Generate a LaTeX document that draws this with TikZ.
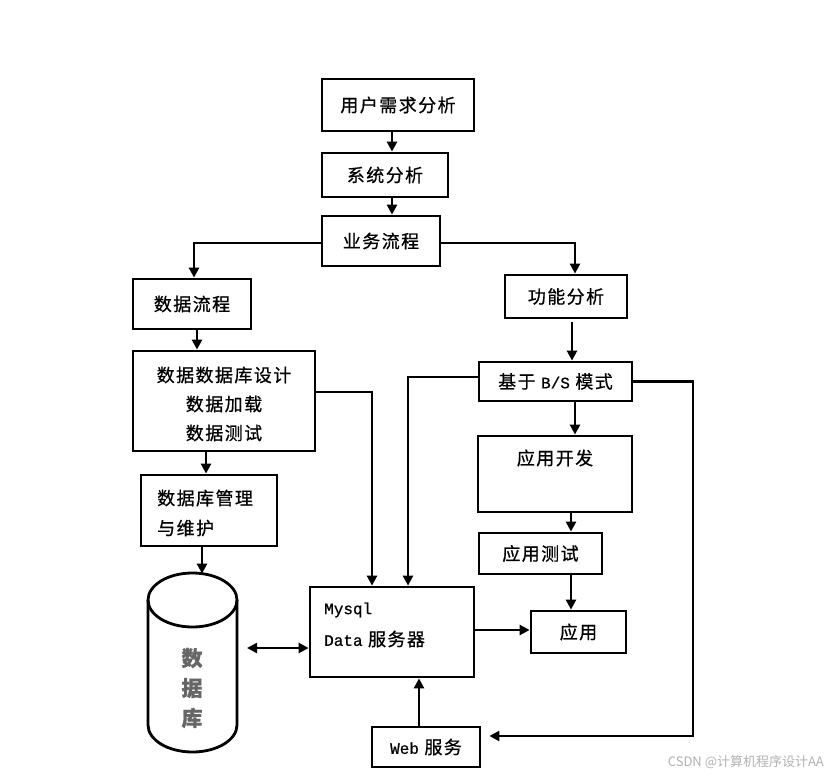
\documentclass[tikz,border=0pt]{standalone}
\usepackage{fontspec}
\setmainfont{Noto Sans CJK SC}[LetterSpace=8, FakeBold=0.7]
\newfontfamily\monof{Liberation Mono}[FakeBold=0.7]
\newfontfamily\wmfont{Noto Sans CJK SC}
\usetikzlibrary{arrows.meta}
\newcommand\latxt[1]{{\monof\fontsize{16}{20}\selectfont #1}}
\tikzset{
  box/.style={draw, line width=2.8pt, inner sep=0pt, font=\fontsize{18}{22}\selectfont},
  txt/.style={inner sep=0pt, font=\fontsize{18}{22}\selectfont},
  arr/.style={line width=2.6pt, -{Triangle[length=10pt,width=10pt]}},
  dbl/.style={line width=2.6pt, {Triangle[length=10pt,width=10pt]}-{Triangle[length=10pt,width=10pt]}},
  ln/.style={line width=2.8pt},
}
\begin{document}
\begin{tikzpicture}[x=1pt,y=-1pt]
\useasboundingbox (0,0) rectangle (832,778);
\fill[white] (0,0) rectangle (832,778);

% boxes
\node[box, minimum width=152pt, minimum height=52pt] (req) at (398,105) {用户需求分析};
\node[box, minimum width=126pt, minimum height=44pt] (sys) at (385,175) {系统分析};
\node[box, minimum width=118pt, minimum height=50pt] (biz) at (381,241) {业务流程};
\node[box, minimum width=118pt, minimum height=50pt] (dflow) at (192,304) {数据流程};
\node[box, minimum width=122pt, minimum height=43pt] (func) at (566,296.5) {功能分析};
\node[box, minimum width=182pt, minimum height=100pt] (dbd) at (224,401) {};
\node[txt, align=center, font=\fontsize{18}{29}\selectfont] (dbdt) at (224,404) {数据数据库设计\\数据加载\\数据测试};
\node[box, minimum width=136pt, minimum height=71pt] (dbm) at (209,510.5) {};
\node[txt, anchor=west, align=left, font=\fontsize{18}{30}\selectfont] (dbmt) at (157,513) {数据库管理\\与维护};
\node[box, minimum width=153pt, minimum height=39pt] (bs) at (555.5,381.5) {基于 \latxt{B/S} 模式};
\node[box, minimum width=154pt, minimum height=76pt] (dev) at (555,474) {};
\node[txt] (devt) at (555,458) {应用开发};
\node[box, minimum width=123pt, minimum height=41pt] (test) at (540.5,553.5) {应用测试};
\node[box, minimum width=95pt, minimum height=42pt] (app) at (578.5,632) {应用};
\node[box, minimum width=164pt, minimum height=90pt] (mysql) at (392,632) {};
\node[txt, anchor=west] (mysqlt1) at (324,610) {\latxt{Mysql}};
\node[txt, anchor=west] (mysqlt2) at (324,639) {\latxt{Data} 服务器};
\node[box, minimum width=108pt, minimum height=40pt] (web) at (426,747) {\latxt{Web} 服务};

% database cylinder
\draw[ln] (148,600) -- (148,725) arc[start angle=180, end angle=0, x radius=44.5, y radius=27] -- (237,600);
\draw[ln] (192.5,600) ellipse[x radius=44.5, y radius=27];
\node[inner sep=0pt, align=center, text=black!60, font=\bfseries\fontsize{21}{30}\selectfont] (dbtext) at (192,688) {数\\据\\库};
\coordinate (cyltop) at (202,573.6);
\coordinate (dbR) at (247,648);
\coordinate (rc) at (693,736);

% connectors
\draw[arr] ([xshift=-6pt]req.south) -- ([xshift=-6pt]req.south |- sys.north);
\draw[arr] ([xshift=7pt]sys.south) -- ([xshift=7pt]sys.south |- biz.north);
\draw[arr] ([yshift=-2pt]biz.west) -| ([xshift=2pt]dflow.north);
\draw[arr] ([yshift=-2pt]biz.east) -| ([xshift=9pt]func.north);
\draw[arr] ([xshift=5pt]dflow.south) -- ([xshift=5pt]dflow.south |- dbd.north);
\draw[arr] ([xshift=-18pt]dbd.south) -- ([xshift=-18pt]dbd.south |- dbm.north);
\draw[arr] ([xshift=-7pt]dbm.south) -- (cyltop);
\draw[arr] ([xshift=6pt,yshift=-3pt]func.south) -- ([xshift=6pt]func.south |- bs.north);
\draw[arr] ([xshift=19.5pt]bs.south) -- ([xshift=19.5pt]bs.south |- dev.north);
\draw[arr] ([xshift=16pt]dev.south) -- ([xshift=16pt]dev.south |- test.north);
\draw[arr] ([xshift=30.5pt]test.south) -- ([xshift=30.5pt]test.south |- app.north);
\draw[arr] ([yshift=9pt]dbd.east) -| ([xshift=-20pt]mysql.north);
\draw[arr] ([yshift=4.5pt]bs.west) -| ([xshift=16pt]mysql.north);
\draw[arr] (bs.east) -| (rc) -- ([xshift=8pt]web.east |- rc);
\draw[arr] ([xshift=-7pt]web.north) -- ([xshift=-7pt]web.north |- mysql.south);
\draw[arr] ([yshift=2pt]mysql.east) -- ([yshift=2pt]mysql.east -| app.west);
\draw[dbl] (dbR) -- (dbR -| mysql.west);

% watermark
\node[inner sep=0pt, anchor=east, text=black!30, font=\wmfont\fontsize{13}{15}\selectfont] (wm) at (824,762) {CSDN @计算机程序设计AA};
\end{tikzpicture}
\end{document}
